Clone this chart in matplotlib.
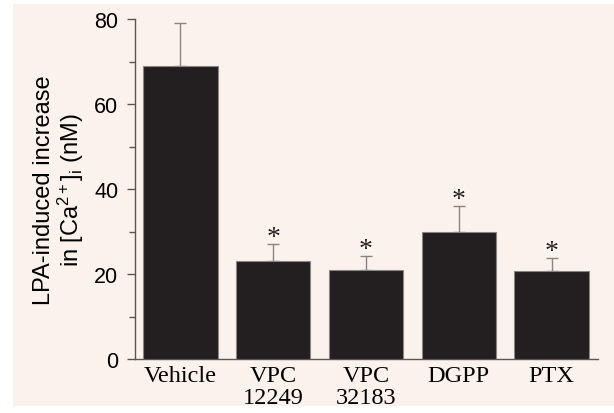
import matplotlib.pyplot as plt
from matplotlib.patches import Rectangle
from matplotlib.ticker import MultipleLocator

# LPA-induced [Ca2+]i rise per treatment (mean + upper SEM)
groups = ["Vehicle", "VPC\n12249", "VPC\n32183", "DGPP", "PTX"]
means = [69, 23, 21, 30, 20.6]
errors = [10, 4, 3.2, 6, 3.1]
significant = [False, True, True, True, True]

BAR_COLOR = "#231f20"
PANEL_COLOR = "#fcf2ed"
AXIS_COLOR = "#5a5555"

plt.rcParams["mathtext.fontset"] = "custom"
plt.rcParams["mathtext.rm"] = "Liberation Sans"
plt.rcParams["mathtext.it"] = "Liberation Sans"

fig = plt.figure(figsize=(6.14, 4.14), dpi=100, facecolor="white")
fig.patches.append(Rectangle((13 / 614, 1 - 407 / 414), 601 / 614, 402 / 414,
                             transform=fig.transFigure, facecolor=PANEL_COLOR,
                             edgecolor="none", zorder=-10))

ax = fig.add_axes([135 / 614, 1 - 360 / 414, 463 / 614, 340 / 414])
ax.patch.set_alpha(0)

x = list(range(len(groups)))
ax.bar(x, means, width=0.8, color=BAR_COLOR, edgecolor="#8a8585", linewidth=0.8,
       zorder=3)
ax.errorbar(x, means, yerr=[[0] * len(means), errors], fmt="none",
            ecolor="#8a8585", elinewidth=1.0, capsize=4, capthick=1.0, zorder=2)

for xi, m, e, sig in zip(x, means, errors, significant):
    if sig:
        ax.annotate("*", (xi, m + e), xytext=(0, -4), textcoords="offset points",
                    ha="center", va="bottom", fontsize=20,
                    family="Liberation Serif", color=BAR_COLOR)

ax.set_xlim(-0.49, 4.5)
ax.set_ylim(0, 80)
ax.yaxis.set_major_locator(MultipleLocator(20))
ax.yaxis.set_minor_locator(MultipleLocator(10))
ax.spines["top"].set_visible(False)
ax.spines["right"].set_visible(False)
for side in ("left", "bottom"):
    ax.spines[side].set_color(AXIS_COLOR)
    ax.spines[side].set_linewidth(1.0)

ax.tick_params(axis="y", which="major", length=6, width=1.0, color=AXIS_COLOR,
               labelsize=15.5, pad=6)
ax.tick_params(axis="y", which="minor", length=4, width=1.0, color=AXIS_COLOR)
ax.tick_params(axis="x", length=0, pad=4)
for lbl in ax.get_yticklabels():
    lbl.set_family("Liberation Sans")

ax.set_xticks(x)
ax.set_xticklabels(groups, family="Liberation Serif", fontsize=17.5,
                   linespacing=1.1)

ax.set_ylabel("LPA-induced increase\nin [Ca$^{2+}$]$_\\mathregular{i}$ (nM)",
              family="Liberation Sans", fontsize=17, linespacing=1.05,
              labelpad=6)

fig.savefig("out.png", dpi=100, facecolor="white")
